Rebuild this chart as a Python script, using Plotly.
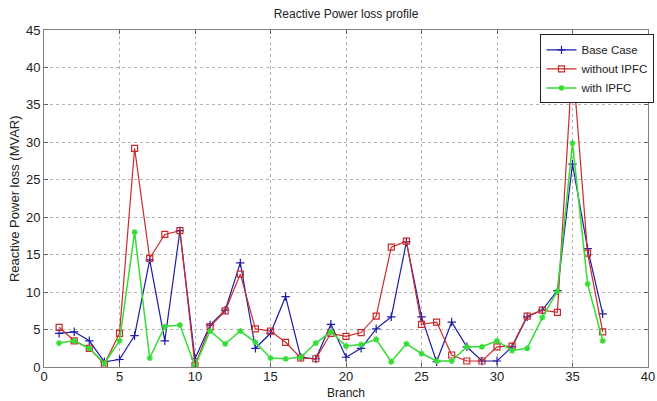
import plotly.graph_objects as go

branch = list(range(1, 38))
base_case = [4.5, 4.7, 3.5, 0.7, 1.0, 4.2, 14.3, 3.5, 18.2, 1.1,
             5.6, 7.6, 13.9, 2.5, 4.5, 9.4, 1.3, 1.1, 5.7, 1.3,
             2.5, 5.1, 6.7, 16.7, 6.7, 0.7, 6.0, 2.7, 0.8, 0.8,
             2.7, 6.7, 7.6, 10.2, 27.1, 15.8, 7.1]
without_ipfc = [5.3, 3.5, 2.5, 0.4, 4.5, 29.2, 14.5, 17.7, 18.2, 0.2,
                5.4, 7.5, 12.4, 5.1, 4.8, 3.3, 1.2, 1.1, 4.5, 4.1,
                4.6, 6.8, 16.0, 16.8, 5.7, 6.0, 1.6, 0.8, 0.8, 2.7,
                2.8, 6.8, 7.6, 7.3, 41.0, 15.2, 4.7]
with_ipfc = [3.2, 3.5, 2.5, 0.5, 3.5, 18.0, 1.2, 5.4, 5.6, 0.1,
             4.8, 3.1, 4.8, 3.3, 1.2, 1.1, 1.3, 3.2, 4.7, 2.8,
             3.0, 3.7, 0.7, 3.1, 1.8, 0.8, 0.8, 2.7, 2.7, 3.5,
             2.2, 2.5, 6.6, 10.1, 29.9, 11.1, 3.5]

x_ticks = [0, 5, 10, 15, 20, 25, 30, 35, 40]
y_ticks = [0, 5, 10, 15, 20, 25, 30, 35, 40, 45]

FONT = "Liberation Sans, Arial"

fig = go.Figure()
fig.add_trace(go.Scatter(x=branch, y=base_case, name="Base Case", mode="lines+markers",
                         line=dict(color="#1c1ca8", width=1.2),
                         marker=dict(symbol="cross-thin-open", size=6,
                                     line=dict(color="#1c1ca8", width=1.2))))
fig.add_trace(go.Scatter(x=branch, y=without_ipfc, name="without IPFC", mode="lines+markers",
                         line=dict(color="#cc2a2a", width=1.2),
                         marker=dict(symbol="square-open", size=6,
                                     line=dict(color="#cc2a2a", width=1.2))))
fig.add_trace(go.Scatter(x=branch, y=with_ipfc, name="with IPFC", mode="lines+markers",
                         line=dict(color="#33dd33", width=1.5),
                         marker=dict(symbol="asterisk-open", size=5,
                                     line=dict(color="#33dd33", width=1.4))))

axis_common = dict(showline=True, linecolor="#808080", linewidth=1, mirror="allticks",
                   ticks="inside", ticklen=4, tickcolor="#606060", automargin=False,
                   showgrid=True, gridcolor="#b4b4b4", griddash="dot", gridwidth=1,
                   zeroline=False, tickfont=dict(family=FONT, size=13, color="#222"))

fig.update_layout(
    width=657, height=401,
    margin=dict(l=44, r=9, t=30, b=34, autoexpand=False),
    paper_bgcolor="white", plot_bgcolor="white",
    title=dict(text="Reactive Power loss profile", xref="paper", x=0.5, xanchor="center",
               yref="container", y=0.965, yanchor="middle",
               font=dict(family=FONT, size=12, color="#222")),
    xaxis=dict(range=[0, 40], tickvals=x_ticks, ticklabelstandoff=-3, **axis_common),
    yaxis=dict(range=[0, 45], tickvals=y_ticks, **axis_common),
    legend=dict(x=0.822, y=0.987, xanchor="left", yanchor="top",
                bgcolor="white", bordercolor="#222", borderwidth=1,
                font=dict(family=FONT, size=11.5, color="#222"),
                tracegroupgap=0, itemwidth=30),
    showlegend=True,
    annotations=[
        dict(text="Branch", xref="paper", yref="paper", x=0.5, y=-0.05,
             xanchor="center", yanchor="top", showarrow=False,
             font=dict(family=FONT, size=12, color="#222")),
        dict(text="Reactive Power loss (MVAR)", xref="paper", yref="paper",
             x=-0.033, y=0.5, xanchor="right", yanchor="middle", textangle=-90,
             showarrow=False, font=dict(family=FONT, size=13, color="#222")),
    ],
)

fig.write_html("out.html", config={"displayModeBar": False},
               post_script="document.body.style.margin='0';document.body.style.overflow='hidden';")
